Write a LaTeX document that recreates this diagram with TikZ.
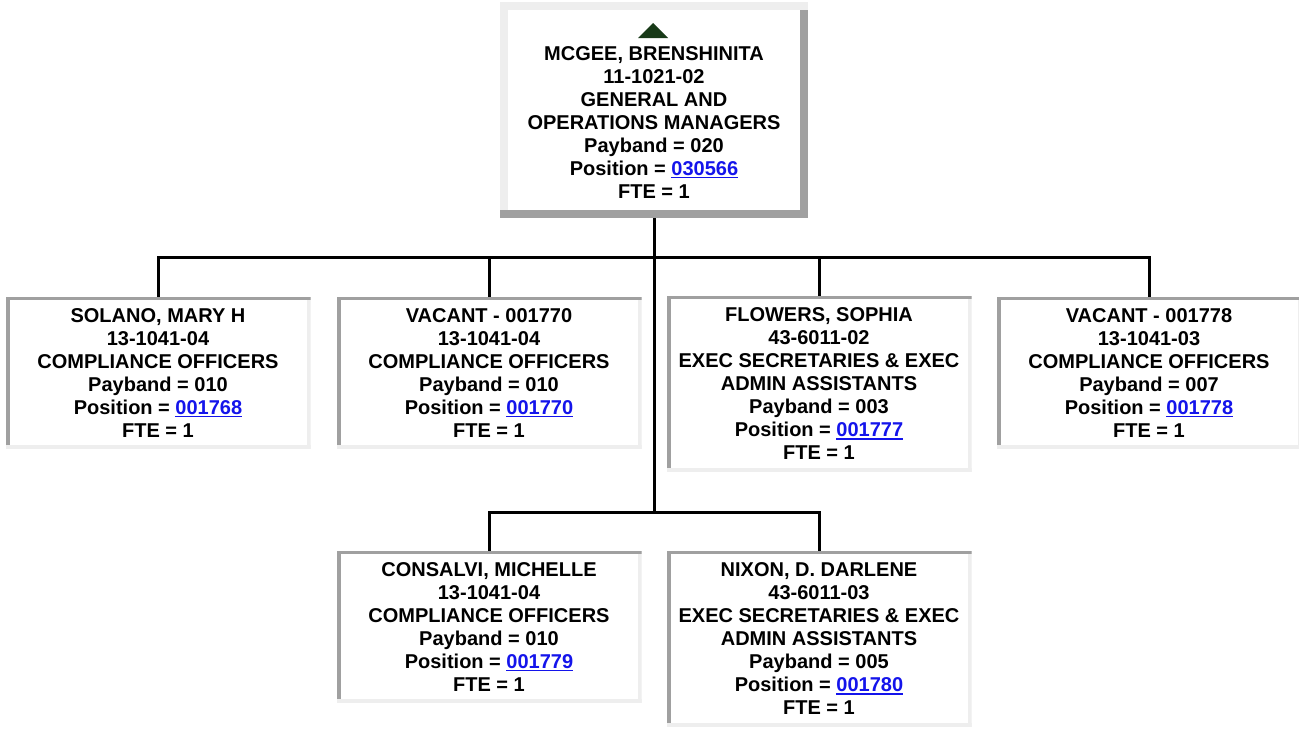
\documentclass[tikz,border=0pt]{standalone}
\usepackage{fontspec}
\setmainfont{Liberation Sans}
\usepackage{tikz}
\definecolor{bandlight}{RGB}{238,238,238}
\definecolor{banddark}{RGB}{160,160,160}
\definecolor{linkblue}{RGB}{20,20,235}
\definecolor{arrowgreen}{RGB}{24,58,24}
\newcommand\poslink[1]{\textcolor{linkblue}{\setbox0\hbox{#1}\rlap{\rule[-2pt]{\wd0}{1.2pt}}\box0}}

\begin{document}
\begin{tikzpicture}[x=0.75pt,y=-0.75pt]
        \tikzset{boxtext/.style = {shape=rectangle,fill=white,inner sep=0pt,align=center,
            font=\fontsize{15}{17.25}\selectfont\bfseries}};
        \tikzset{outset/.style = {boxtext,minimum width=231pt,minimum height=162pt,
            path picture={
              \fill[bandlight] (path picture bounding box.north west) rectangle ([xshift=6pt]path picture bounding box.south west);
              \fill[bandlight] (path picture bounding box.north west) rectangle ([yshift=-6pt]path picture bounding box.north east);
              \fill[banddark] ([yshift=-6pt]path picture bounding box.north east) rectangle ([xshift=-6pt]path picture bounding box.south east);
              \fill[banddark] (path picture bounding box.south west) rectangle ([yshift=6pt]path picture bounding box.south east);}}};
        \tikzset{inset/.style = {boxtext,minimum width=228.75pt,minimum height=114pt,
            path picture={
              \fill[bandlight] (path picture bounding box.north east) rectangle ([xshift=-3pt]path picture bounding box.south east);
              \fill[bandlight] (path picture bounding box.south west) rectangle ([yshift=3pt]path picture bounding box.south east);
              \fill[banddark] (path picture bounding box.north west) rectangle ([yshift=-2.5pt]path picture bounding box.north east);
              \fill[banddark] (path picture bounding box.north west) rectangle ([xshift=3pt,yshift=3pt]path picture bounding box.south west);}}};
        \tikzset{tallbox/.style = {inset,minimum height=132pt}};
        \tikzset{edge/.style = {line width=2.25pt}};
        \useasboundingbox (0,0) rectangle (1299,729);
        \node[outset] (mgr) at (654,110) {\strut\\MCGEE, BRENSHINITA\\11-1021-02\\GENERAL AND\\OPERATIONS MANAGERS\\Payband = 020\\Position = \poslink{030566}\\FTE = 1};
        \fill[arrowgreen] (638,38) -- (668,38) -- (653,23) -- cycle;
        \node[inset] (solano) at (158,373) {SOLANO, MARY H\\13-1041-04\\COMPLIANCE OFFICERS\\Payband = 010\\Position = \poslink{001768}\\FTE = 1};
        \node[inset] (vac70) at (489,373) {VACANT - 001770\\13-1041-04\\COMPLIANCE OFFICERS\\Payband = 010\\Position = \poslink{001770}\\FTE = 1};
        \node[tallbox] (flowers) at (819,384) {FLOWERS, SOPHIA\\43-6011-02\\EXEC SECRETARIES \& EXEC\\ADMIN ASSISTANTS\\Payband = 003\\Position = \poslink{001777}\\FTE = 1};
        \node[inset] (vac78) at (1149,373) {VACANT - 001778\\13-1041-03\\COMPLIANCE OFFICERS\\Payband = 007\\Position = \poslink{001778}\\FTE = 1};
        \node[inset] (consalvi) at (489,627) {CONSALVI, MICHELLE\\13-1041-04\\COMPLIANCE OFFICERS\\Payband = 010\\Position = \poslink{001779}\\FTE = 1};
        \node[tallbox] (nixon) at (819,639) {NIXON, D. DARLENE\\43-6011-03\\EXEC SECRETARIES \& EXEC\\ADMIN ASSISTANTS\\Payband = 005\\Position = \poslink{001780}\\FTE = 1};
        \coordinate (bus1) at (654,257);
        \coordinate (bus2) at (654,512);
        \draw[edge] (mgr.south) to (bus2);
        \draw[edge] (solano.north) |- (bus1) -| (vac78.north);
        \draw[edge] (vac70.north) to (vac70.north |- bus1);
        \draw[edge] (flowers.north) to (flowers.north |- bus1);
        \draw[edge] (consalvi.north) |- (bus2) -| (nixon.north);
    \end{tikzpicture}
\end{document}
